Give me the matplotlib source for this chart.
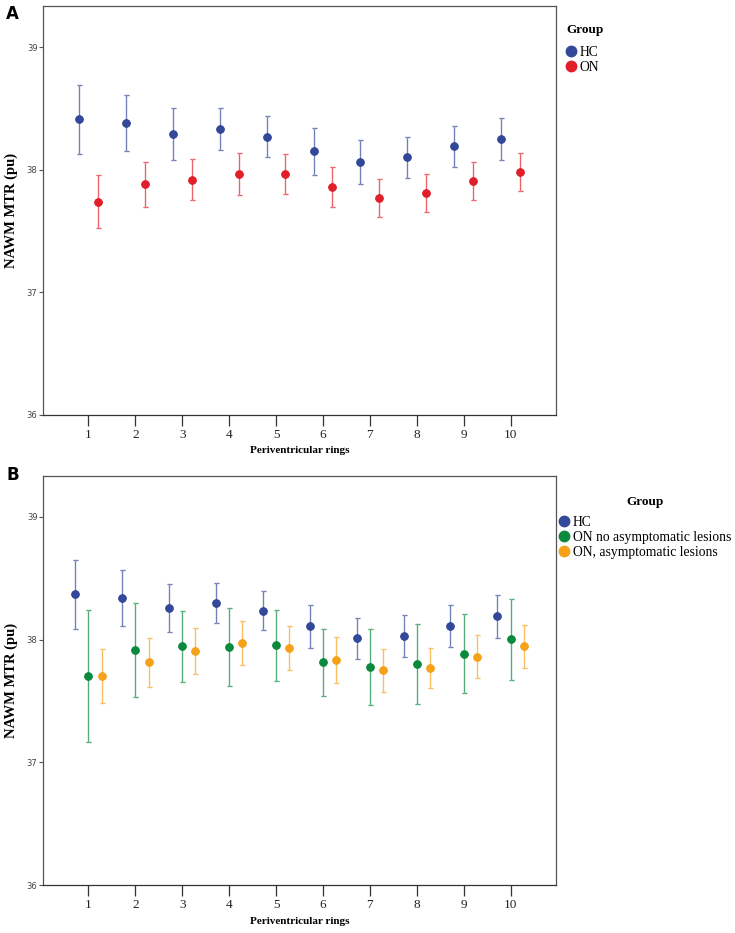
import matplotlib
matplotlib.use("Agg")
import matplotlib.pyplot as plt
from matplotlib.lines import Line2D

rings = [1, 2, 3, 4, 5, 6, 7, 8, 9, 10]

# panel A: means and half-width of the error bars
hc_a = [38.41, 38.38, 38.29, 38.33, 38.27, 38.15, 38.06, 38.10, 38.19, 38.25]
hc_a_err = [0.28, 0.23, 0.21, 0.17, 0.165, 0.19, 0.18, 0.17, 0.17, 0.17]
on_a = [37.74, 37.88, 37.92, 37.965, 37.965, 37.86, 37.77, 37.81, 37.91, 37.98]
on_a_err = [0.215, 0.18, 0.17, 0.168, 0.165, 0.16, 0.155, 0.152, 0.155, 0.155]

# panel B
hc_b = [38.37, 38.34, 38.26, 38.295, 38.235, 38.11, 38.01, 38.03, 38.115, 38.19]
hc_b_err = [0.28, 0.23, 0.195, 0.163, 0.16, 0.176, 0.168, 0.171, 0.171, 0.173]
on_no_b = [37.705, 37.915, 37.945, 37.94, 37.955, 37.815, 37.775, 37.80, 37.885, 38.005]
on_no_b_err = [0.54, 0.38, 0.29, 0.315, 0.29, 0.275, 0.31, 0.325, 0.32, 0.33]
on_as_b = [37.705, 37.815, 37.91, 37.97, 37.935, 37.835, 37.75, 37.77, 37.86, 37.945]
on_as_b_err = [0.22, 0.198, 0.187, 0.179, 0.179, 0.184, 0.176, 0.165, 0.176, 0.176]

blue = "#34489a"
red = "#e11f2a"
green = "#0b8a3e"
orange = "#f5a21a"

serif = "Liberation Serif"
W, H = 735, 933


def style_axes(ax):
    ax.set_xlim(0.03, 10.97)
    ax.set_ylim(36, 39.335)
    ax.set_yticks([36, 37, 38, 39])
    ax.set_xticks(rings)
    ax.set_xticklabels([str(r) for r in rings], fontfamily=serif, fontsize=9.5, color="#222222")
    ax.set_yticklabels(["36", "37", "38", "39"], fontsize=6, color="#444444")
    ax.tick_params(axis="x", length=8, width=0.9, color="#333333", pad=2)
    ax.tick_params(axis="y", length=3, width=0.8, color="#555555", pad=1)
    for s in ax.spines.values():
        s.set_color("#555555")
        s.set_linewidth(0.9)
    ax.spines["bottom"].set_color("#333333")
    ax.set_ylabel("NAWM MTR (pu)", fontfamily=serif, fontweight="bold", fontsize=10.5, labelpad=6)
    ax.set_xlabel("Periventricular rings", fontfamily=serif, fontweight="bold", fontsize=8, labelpad=4)


def draw(ax, offset, means, errs, color):
    xs = [r + offset for r in rings]
    ax.errorbar(xs, means, yerr=errs, fmt="o", color=color, ecolor=color, markersize=5,
                elinewidth=0.9, capsize=1.8, capthick=0.9)
    # lighter whiskers like the original
    ax.errorbar(xs, means, yerr=errs, fmt="none", ecolor="white", elinewidth=0.9,
                capsize=1.8, capthick=0.9, alpha=0.3)
    ax.plot(xs, means, "o", color=color, markersize=5, zorder=5)


def handle(c):
    return Line2D([], [], marker="o", linestyle="none", markersize=7.5, color=c)


def legend(ax, colors, labels, x, y):
    leg = ax.legend([handle(c) for c in colors], labels, loc="upper left",
                    bbox_to_anchor=(x / W, 1 - y / H), bbox_transform=fig.transFigure,
                    frameon=False, prop={"family": serif, "size": 9.8}, handletextpad=0.25,
                    handlelength=0.75, labelspacing=0.17, borderpad=0, borderaxespad=0)
    return leg


fig = plt.figure(figsize=(W / 100, H / 100), dpi=100)

ax1 = fig.add_axes([43 / W, 1 - 415 / H, 513 / W, 409 / H])
draw(ax1, -0.2, hc_a, hc_a_err, blue)
draw(ax1, 0.2, on_a, on_a_err, red)
style_axes(ax1)

ax2 = fig.add_axes([43 / W, 1 - 885.3 / H, 513 / W, 409.6 / H])
draw(ax2, -0.28, hc_b, hc_b_err, blue)
draw(ax2, 0.0, on_no_b, on_no_b_err, green)
draw(ax2, 0.28, on_as_b, on_as_b_err, orange)
style_axes(ax2)

legend(ax1, [blue, red], ["HC", "ON"], 566, 45.5)
fig.text(566 / W, 1 - 30 / H, "Group", fontfamily=serif, fontweight="bold", fontsize=9.5,
         ha="left", va="center")

legend(ax2, [blue, green, orange],
       ["HC", "ON no asymptomatic lesions", "ON, asymptomatic lesions"], 559, 515.5)
fig.text(645 / W, 1 - 502 / H, "Group", fontfamily=serif, fontweight="bold", fontsize=9.5,
         ha="center", va="center")

fig.text(6 / W, 1 - 5 / H, "A", fontsize=12, fontweight="bold", va="top", ha="left")
fig.text(6 / W, 1 - 466 / H, "B", fontsize=12, fontweight="bold", va="top", ha="left")

fig.savefig("out.png", dpi=100)
